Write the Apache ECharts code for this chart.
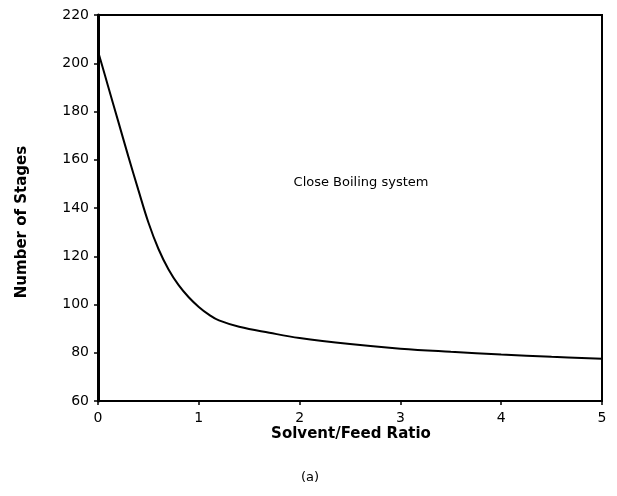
<!DOCTYPE html>
<html>
<head>
<meta charset="utf-8">
<script src="https://cdn.jsdelivr.net/npm/echarts@6/dist/echarts.min.js"></script>
<style>
html,body{margin:0;padding:0;background:#fff;}
#c{width:617px;height:496px;}
</style>
</head>
<body>
<div id="c"></div>
<script>
const ratio = [0, 0.1, 0.2, 0.3, 0.4, 0.5, 0.6, 0.7, 0.8, 0.9, 1.0, 1.1, 1.2, 1.4, 1.7, 2.0, 2.5, 3.0, 3.5, 4.0, 4.5, 5.0];
const stages = [205, 190.5, 176, 161.5, 147.5, 134, 123, 114.5, 108, 103, 99, 95.8, 93.4, 90.8, 88.3, 86.1, 83.6, 81.7, 80.4, 79.3, 78.3, 77.5];
const xTitle = 'Solvent/Feed Ratio';
const yTitle = 'Number of Stages';
const annotation = 'Close Boiling system';
const caption = '(a)';

const chart = echarts.init(document.getElementById('c'));
const labelFont = {fontFamily: 'DejaVu Sans', fontSize: 14, color: '#000'};
chart.setOption({
  animation: false,
  backgroundColor: '#fff',
  grid: {left: 98, right: 15, top: 15, bottom: 95, show: true, borderColor: '#000', borderWidth: 2, backgroundColor: 'transparent'},
  xAxis: {
    type: 'value', min: 0, max: 5, interval: 1,
    axisLine: {show: true, lineStyle: {color: '#000', width: 2}},
    axisTick: {show: true, inside: false, length: 4, lineStyle: {color: '#000', width: 1.5}},
    axisLabel: Object.assign({margin: 10}, labelFont),
    splitLine: {show: false}
  },
  yAxis: {
    type: 'value', min: 60, max: 220, interval: 20,
    axisLine: {show: true, lineStyle: {color: '#000', width: 3}},
    axisTick: {show: true, inside: false, length: 4, lineStyle: {color: '#000', width: 1.5}},
    axisLabel: Object.assign({margin: 9}, labelFont),
    splitLine: {show: false}
  },
  series: [{
    type: 'line',
    data: ratio.map((x, i) => [x, stages[i]]),
    showSymbol: false,
    smooth: 0.4,
    lineStyle: {color: '#000', width: 2},
    z: 3
  }],
  graphic: [
    {type: 'text', style: {text: annotation, x: 361, y: 183, align: 'center', verticalAlign: 'middle', font: '13px "DejaVu Sans"', fill: '#000'}},
    {type: 'text', style: {text: xTitle, x: 351, y: 434, align: 'center', verticalAlign: 'middle', font: 'bold 15px "DejaVu Sans"', fill: '#000'}},
    {type: 'text', rotation: Math.PI / 2, x: 22, y: 222, style: {text: yTitle, x: 0, y: 0, align: 'center', verticalAlign: 'middle', font: 'bold 15px "DejaVu Sans"', fill: '#000'}},
    {type: 'text', style: {text: caption, x: 310, y: 478, align: 'center', verticalAlign: 'middle', font: '13px "DejaVu Sans"', fill: '#000'}}
  ]
});
</script>
</body>
</html>
